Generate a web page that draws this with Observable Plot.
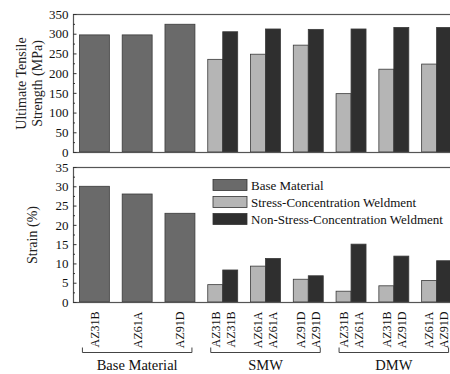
<!DOCTYPE html>
<html>
<head>
<meta charset="utf-8">
<script src="https://cdn.jsdelivr.net/npm/d3@7"></script>
<script src="https://cdn.jsdelivr.net/npm/@observablehq/plot@0.6"></script>
<style>
  html, body { margin: 0; padding: 0; background: #fff; overflow: hidden; width: 450px; height: 374px; }
  #wrap { position: relative; width: 450px; height: 374px; overflow: hidden; }
  #wrap svg { display: block; max-width: none; }
</style>
</head>
<body>
<div id="wrap"></div>
<script>
// ---- data ----
const groupNames = ["Base Material", "SMW", "DMW"];
const baseAlloys = ["AZ31B", "AZ61A", "AZ91D"];
const baseUTS = [297, 297, 324];
const baseStrain = [30, 28, 23];

const smwLabels = [["AZ31B", "AZ31B"], ["AZ61A", "AZ61A"], ["AZ91D", "AZ91D"]];
const dmwLabels = [["AZ31B", "AZ61A"], ["AZ31B", "AZ91D"], ["AZ61A", "AZ91D"]];

const scUTS_SMW = [235, 248, 271];
const scUTS_DMW = [148, 210, 223];
const nscUTS_SMW = [305, 312, 311];
const nscUTS_DMW = [312, 316, 316];

const scStrain_SMW = [4.5, 9.3, 5.9];
const scStrain_DMW = [2.8, 4.2, 5.6];
const nscStrain_SMW = [8.3, 11.3, 6.8];
const nscStrain_DMW = [15.0, 11.9, 10.7];

const seriesNames = ["Base Material", "Stress-Concentration Weldment", "Non-Stress-Concentration Weldment"];
const utsTicks = [0, 50, 100, 150, 200, 250, 300, 350];
const strainTicks = [0, 5, 10, 15, 20, 25, 30, 35];

// ---- build tables (slot index 0..8) ----
function buildRows(base, scS, nscS, scD, nscD) {
  const rows = [];
  base.forEach((v, i) => rows.push({slot: i, series: seriesNames[0], value: v, label: baseAlloys[i], part: "single"}));
  scS.forEach((v, i) => {
    rows.push({slot: 3 + i, series: seriesNames[1], value: v, label: smwLabels[i][0], part: "left"});
    rows.push({slot: 3 + i, series: seriesNames[2], value: nscS[i], label: smwLabels[i][1], part: "right"});
  });
  scD.forEach((v, i) => {
    rows.push({slot: 6 + i, series: seriesNames[1], value: v, label: dmwLabels[i][0], part: "left"});
    rows.push({slot: 6 + i, series: seriesNames[2], value: nscD[i], label: dmwLabels[i][1], part: "right"});
  });
  return rows;
}
const utsRows = buildRows(baseUTS, scUTS_SMW, nscUTS_SMW, scUTS_DMW, nscUTS_DMW);
const strainRows = buildRows(baseStrain, scStrain_SMW, nscStrain_SMW, scStrain_DMW, nscStrain_DMW);

const pad = 0.15;
const xl = d => d.slot + pad + (d.part === "right" ? (1 - 2 * pad) / 2 : 0);
const xr = d => d.slot + 1 - pad - (d.part === "left" ? (1 - 2 * pad) / 2 : 0);
const xc = d => (xl(d) + xr(d)) / 2;

const colors = {range: ["#6a6a6a", "#b5b5b5", "#2f2f2f"], domain: seriesNames};
const font = "'Liberation Serif', 'Times New Roman', serif";
const W = 458, ML = 73, MR = 0;
const plotW = W - ML - MR;

function minorTicks(ticks) {
  const step = ticks[1] - ticks[0];
  return ticks.slice(0, -1).map(t => t + step / 2);
}

function makePanel({rows, yTicks, height, mt, mb, titleLines}) {
  const marks = [
    Plot.rectY(rows, {x1: xl, x2: xr, y: "value", fill: "series", stroke: "#3a3a3a", strokeWidth: 0.8}),
    Plot.frame({stroke: "#555", strokeWidth: 1.2}),
    Plot.ruleY(yTicks, {stroke: "#333", insetRight: plotW - 3.5}),
    Plot.ruleY(minorTicks(yTicks), {stroke: "#333", insetRight: plotW - 2}),
    Plot.axisY({ticks: yTicks, tickSize: 0, tickPadding: 5, label: null, fontSize: 13, fill: "#111"})
  ];
  titleLines.forEach((t, i) => {
    marks.push(Plot.text([t], {
      frameAnchor: "left", textAnchor: "middle", rotate: -90,
      dx: -(titleLines.length === 2 ? (i === 0 ? 52 : 36) : 41),
      text: d => d, fontSize: 14, fill: "#222"
    }));
  });
  return {marks, height, mt, mb};
}

// ---- top panel ----
const topPanel = makePanel({rows: utsRows, yTicks: utsTicks, height: 160, mt: 14, mb: 8,
  titleLines: ["Ultimate Tensile", "Strength (MPa)"]});
const topPlot = Plot.plot({
  width: W, height: topPanel.height, marginLeft: ML, marginRight: MR, marginTop: topPanel.mt, marginBottom: topPanel.mb,
  style: {fontFamily: font, fontSize: "13px", maxWidth: "none", background: "white"},
  x: {type: "linear", domain: [0, 9], axis: null},
  y: {domain: [0, 350], axis: null},
  color: colors,
  marks: topPanel.marks
});

// ---- bottom panel ----
const botPanel = makePanel({rows: strainRows, yTicks: strainTicks, height: 214, mt: 7, mb: 72,
  titleLines: ["Strain (%)"]});
botPanel.marks.push(Plot.text(strainRows, {
  x: xc, y: 0, text: "label", rotate: -90, textAnchor: "end", dy: 9, fontSize: 12, fill: "#111"
}));
const botPlot = Plot.plot({
  width: W, height: botPanel.height, marginLeft: ML, marginRight: MR, marginTop: botPanel.mt, marginBottom: botPanel.mb,
  style: {fontFamily: font, fontSize: "13px", maxWidth: "none", background: "white"},
  x: {type: "linear", domain: [0, 9], axis: null},
  y: {domain: [0, 35], axis: null},
  color: colors,
  marks: botPanel.marks
});

const wrap = document.getElementById("wrap");
wrap.appendChild(topPlot);
wrap.appendChild(botPlot);

// ---- group brackets using the plot's x scale ----
const sx = botPlot.scale("x");
const svg = d3.select(botPlot);
const yLine = 192.5, yTip = 187.5;
groupNames.forEach((g, i) => {
  const c = i * 3 + 1.5;
  const a = sx.apply(c - 1.28), b = sx.apply(c + 1.28);
  svg.append("path")
    .attr("d", `M${a},${yTip}V${yLine}H${b}V${yTip}`)
    .attr("fill", "none").attr("stroke", "#444").attr("stroke-width", 1);
  svg.append("text")
    .attr("x", sx.apply(c)).attr("y", 210)
    .attr("text-anchor", "middle")
    .style("font-family", font).style("font-size", "14.5px").attr("fill", "#111")
    .text(g);
});

// ---- legend ----
const leg = svg.append("g");
seriesNames.forEach((s, i) => {
  const y0 = 19.5 + i * 17;
  leg.append("rect").attr("x", 213).attr("y", y0).attr("width", 34).attr("height", 11)
    .attr("fill", colors.range[i]).attr("stroke", "#333").attr("stroke-width", 0.8);
  leg.append("text").attr("x", 251).attr("y", y0 + 10)
    .attr("text-anchor", "start")
    .style("font-family", font).style("font-size", "13px").attr("fill", "#111")
    .text(s);
});
</script>
</body>
</html>
